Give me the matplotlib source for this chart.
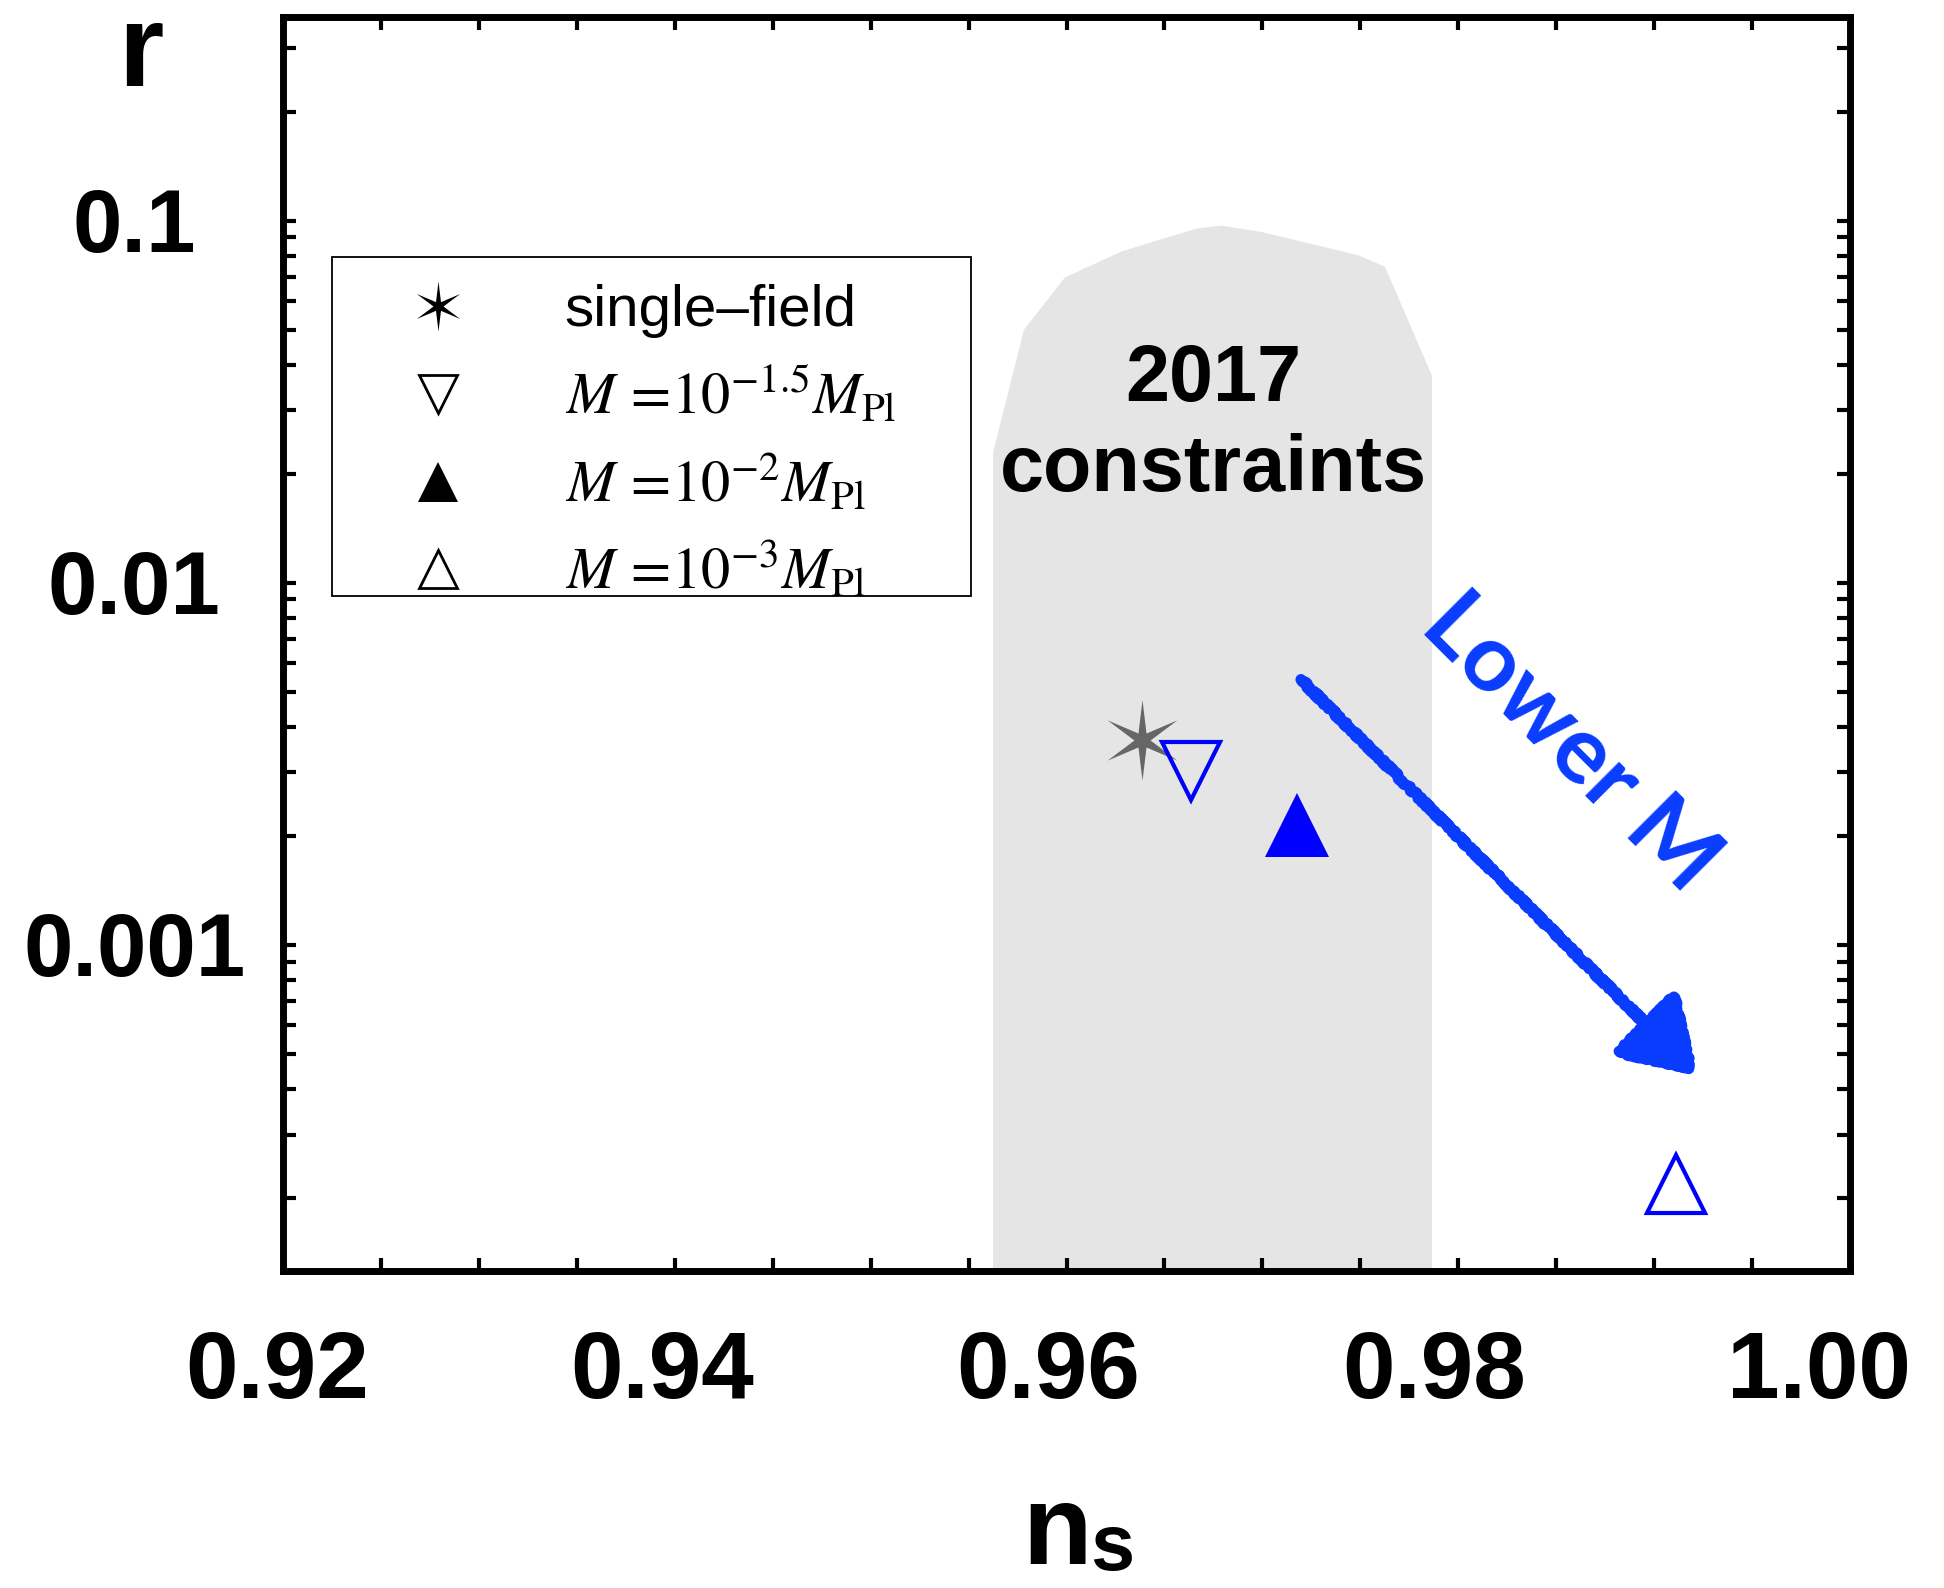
import numpy as np
import matplotlib
matplotlib.use('Agg')
import matplotlib.pyplot as plt
from matplotlib.path import Path
from matplotlib.lines import Line2D
from matplotlib.patches import FancyArrowPatch, ArrowStyle, Rectangle
from matplotlib.ticker import LogLocator, MultipleLocator, NullFormatter
import matplotlib.transforms as mtransforms

plt.rcParams['mathtext.fontset'] = 'stix'
plt.rcParams['mathtext.bf'] = 'Liberation Sans:bold'
plt.rcParams['font.family'] = ['Liberation Sans', 'DejaVu Sans']

# ---------------- data ----------------
ns_single = [0.96385]
r_single = [0.00368]
ns_m15 = [0.96636]
r_m15 = [0.00303]
ns_m2 = [0.97177]
r_m2 = [0.00214]
ns_m3 = [0.99112]
r_m3 = [2.19e-4]

region_ns = [0.95625, 0.95625, 0.95783, 0.95992, 0.96283, 0.96666, 0.96794,
             0.96998, 0.97488, 0.97626, 0.97866, 0.97866]
region_r = [1e-4, 0.0229, 0.050, 0.0697, 0.0823, 0.0952, 0.0969,
            0.093, 0.0803, 0.0746, 0.0373, 1e-4]

arrow_ns = [0.97197, 0.99219]
arrow_r = [0.00541, 4.38e-4]

x_ticks = [0.92, 0.94, 0.96, 0.98, 1.00]
x_ticklabels = ['0.92', '0.94', '0.96', '0.98', '1.00']
y_ticks = [0.001, 0.01, 0.1]
y_ticklabels = ['0.001', '0.01', '0.1']

legend_labels = ['single\u2013field',
                 r'$M\,=\!10^{-1.5}M_{\mathrm{Pl}}$',
                 r'$M\,=\!10^{-2}M_{\mathrm{Pl}}$',
                 r'$M\,=\!10^{-3}M_{\mathrm{Pl}}$']

# ---------------- figure ----------------
W, H = 1944, 1588
fig = plt.figure(figsize=(W / 100, H / 100), dpi=100)
L, R, T, B = 283, 1850, 17, 1271
ax = fig.add_axes([L / W, 1 - B / H, (R - L) / W, (B - T) / H])
ax.set_yscale('log')
ax.set_xlim(0.92, 1.00)
ax.set_ylim(1.26e-4, 0.365)

ax.fill(region_ns, region_r, color='#e5e5e5', lw=0, zorder=0)

# six-pointed star marker
ang_o = np.deg2rad(90 + 60 * np.arange(6))
ang_i = ang_o + np.deg2rad(30)
r_in = 0.2
verts = []
for ao, ai in zip(ang_o, ang_i):
    verts.append((np.cos(ao), np.sin(ao)))
    verts.append((r_in * np.cos(ai), r_in * np.sin(ai)))
verts.append(verts[0])
codes = [Path.MOVETO] + [Path.LINETO] * 11 + [Path.CLOSEPOLY]
star = Path(verts, codes)

blue = '#0000ff'
ax.plot(ns_single, r_single, ls='none', marker=star, ms=58, color='#666666', mew=0, zorder=3)
ax.plot(ns_m15, r_m15, ls='none', marker='v', ms=42, mfc='none', mec=blue, mew=3, zorder=4)
ax.plot(ns_m2, r_m2, ls='none', marker='^', ms=46, color=blue, mew=0, zorder=4)
ax.plot(ns_m3, r_m3, ls='none', marker='^', ms=42, mfc='none', mec=blue, mew=3, zorder=4)

arrow_col = '#0a3cff'
arr = FancyArrowPatch(posA=(arrow_ns[0], arrow_r[0]), posB=(arrow_ns[1], arrow_r[1]),
                      arrowstyle=ArrowStyle('-|>', head_length=44, head_width=28),
                      mutation_scale=1, lw=8, color=arrow_col, shrinkA=0, shrinkB=0,
                      joinstyle='round', capstyle='round', zorder=5)
arr.set_sketch_params(scale=1.5, length=8, randomness=6)
ax.add_patch(arr)

ax.text(0.98576, 0.00361, 'Lower M', rotation=-45, rotation_mode='anchor',
        ha='center', va='center', fontsize=68, family=['Lato', 'DejaVu Sans'],
        weight='bold', color=arrow_col, zorder=6)

ax.text(0.96748, 0.0272, '2017\nconstraints', ha='center', va='center',
        multialignment='center', fontsize=57, fontweight='bold', linespacing=1.25, zorder=6)

# ticks
for s in ax.spines.values():
    s.set_linewidth(5)
ax.set_xticks(x_ticks, labels=x_ticklabels, fontsize=68, fontweight='bold', va='center')
ax.xaxis.set_minor_locator(MultipleLocator(0.005))
ax.set_yticks(y_ticks, labels=y_ticklabels, fontsize=64, fontweight='bold', ha='center', va='center')
ax.yaxis.set_minor_locator(LogLocator(base=10, subs=np.arange(2, 10), numticks=50))
ax.yaxis.set_minor_formatter(NullFormatter())
ax.tick_params(which='both', direction='in', top=True, right=True, length=9.5, width=3)
ax.tick_params(axis='x', which='major', pad=74)
ax.tick_params(axis='y', which='major', pad=107)
for i, t in enumerate(ax.get_xticklabels()):
    dx = -(6 + 6.2 * i) / 100
    t.set_transform(t.get_transform() + mtransforms.ScaledTranslation(dx, 0, fig.dpi_scale_trans))
for t in ax.get_yticklabels():
    t.set_transform(t.get_transform() + mtransforms.ScaledTranslation(0, -0.08, fig.dpi_scale_trans))

# axis labels
fig.text(141 / W, 1 - 86 / H, r'$\mathbf{r}$', ha='center', va='baseline',
         fontsize=84, math_fontfamily='custom')
fig.text(1054 / W, 1 - 1564 / H, r'$\mathbf{n}$', ha='center', va='baseline',
         fontsize=82, math_fontfamily='custom')
fig.text(1090 / W, 1 - 1570 / H, r'$\mathbf{s}$', ha='left', va='baseline',
         fontsize=57, math_fontfamily='custom')

# legend: frame drawn as a box, entries through ax.legend
bx0 = (332 - L) / (R - L)
btop = 1 - (257 - T) / (B - T)
bw = (971 - 332) / (R - L)
bh = (596 - 257) / (B - T)
ax.add_patch(Rectangle((bx0, btop - bh), bw, bh, transform=ax.transAxes,
                       facecolor='white', edgecolor='black', lw=1.3, zorder=6.5))
handles = [Line2D([], [], ls='none', marker=star, ms=36, color='k', mew=0),
           Line2D([], [], ls='none', marker='v', ms=27, mfc='none', mec='k', mew=2),
           Line2D([], [], ls='none', marker='^', ms=29, color='k', mew=0),
           Line2D([], [], ls='none', marker='^', ms=27, mfc='none', mec='k', mew=2)]
ltop = 1 - (264 - T) / (B - T)
leg = ax.legend(handles, legend_labels, loc='upper left',
                bbox_to_anchor=(bx0, ltop - bh, bw, bh), mode='expand',
                borderaxespad=0, frameon=False,
                borderpad=0.35, handlelength=2.95, handletextpad=0.69,
                labelspacing=0.46, prop={'family': 'Liberation Sans', 'size': 42})
leg.set_zorder(7)

fig.savefig('out.png', dpi=100)
